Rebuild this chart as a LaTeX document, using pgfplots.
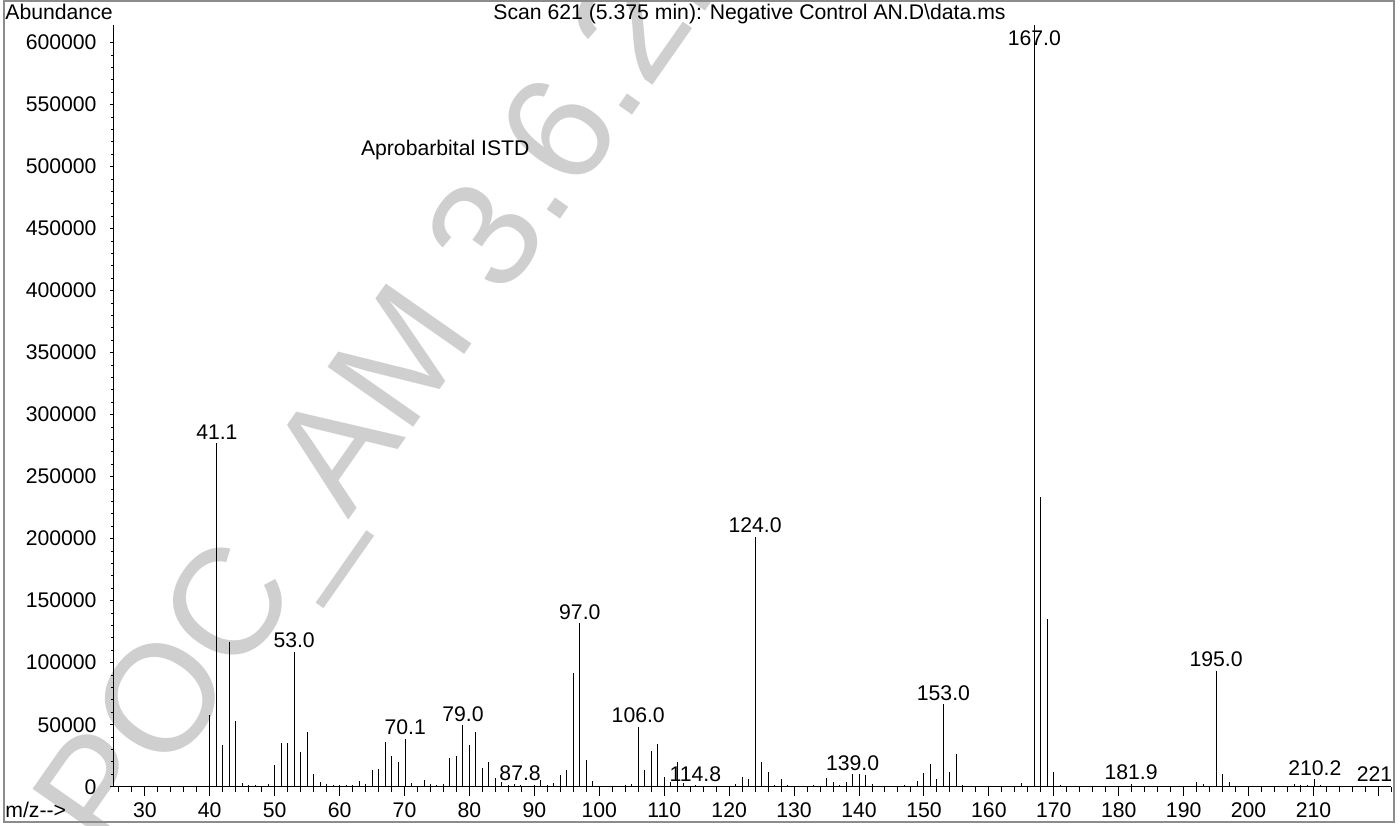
\documentclass[border=0pt]{standalone}
\usepackage{fontspec}
\setmainfont{Liberation Sans}
\usepackage{pgfplots}
\pgfplotsset{compat=1.18}
\usepackage{pgfplotstable}

\pgfplotstableread{
mz int
40 57800
41.1 277000
42 33400
43 116700
44 53000
45 3200
46 1000
47 1000
48 800
49 1900
50 17500
51 35500
52 35500
53 108900
54 28000
55 43900
56 10200
57 3800
58 2200
59 1600
60 1000
61 1600
62 1600
63 4600
64 2400
65 13200
66 14500
67 36200
68 24500
69 19700
70.1 38500
71 3000
72 500
73 5600
74 1900
75 1600
76 2400
77 23400
78 24700
79 49700
80 33900
81 44100
82 15300
83 19700
84 7000
85 3500
86 1100
87 1900
87.8 1500
89 800
90 1000
91 5100
92 1600
93 3000
94 9100
95 13200
96 91900
97 131800
98 21300
99 4600
100 800
101 300
102 300
103 500
104 1300
105 1900
106 48400
107 13200
108 28800
109 34700
110 8100
111 4000
112 19700
113 3000
114 800
114.8 1300
116 500
117 500
118 800
119 500
120 600
121 2200
122 8100
123 5900
124 201600
125 19900
126 11600
127 1300
128 6200
129 1300
130 300
131 300
132 500
133 1600
134 500
135 7000
136 3800
137 1100
138 3800
139 10200
140 10200
141 9400
142 2200
143 800
144 500
145 500
146 800
147 1300
148 800
149 4600
150 11000
151 18500
152 5900
153 66400
154 11600
155 26100
156 1300
157 500
158 300
159 300
160 300
161 300
162 500
163 500
164 800
165 3200
166 300
167 614000
168 233900
169 135200
170 11800
171 1300
172 500
173 300
174 300
175 500
176 800
177 500
178 500
179 300
180 300
181 500
181.9 2200
183 800
184 300
185 300
186 300
187 300
188 300
189 300
190 300
191 500
192 3500
193 2200
194 500
195 93500
196 10200
197 3800
198 800
199 300
200 300
201 300
202 300
203 300
204 300
205 300
206 500
207 1900
208 1100
209 1600
210.2 6200
211 1100
212 300
213 300
214 300
215 300
216 300
217 500
218 300
219 800
221 500
}\spectrum

\definecolor{wm}{RGB}{207,207,207}
\definecolor{frame}{RGB}{140,140,140}

\begin{document}
\fontsize{10.6}{12.7}\selectfont
\begin{tikzpicture}[x=1pt,y=1pt]
\useasboundingbox (0,0) rectangle (700,412.5);
\begin{scope}
\clip (0,0) rectangle (700,412.5);
\node[rotate=55, anchor=base west, inner sep=0pt, text=wm, font=\fontsize{76}{76}\selectfont] at (55.5,-17.5) {POC\_AM 3.6.2.};
\end{scope}
\draw[frame, line width=0.8pt] (2,1.5) rectangle (697,412);
\begin{axis}[
  at={(56.5pt,19.15pt)}, anchor=south west,
  scale only axis, width=639.2pt, height=380.7pt,
  xmin=25.1, xmax=222, ymin=0, ymax=614000,
  axis x line=bottom, axis y line=left,
  axis line style={-, line width=0.5pt, black},
  xtick={30,40,...,210}, extra x ticks={220}, extra x tick labels={},
  minor xtick={26,28,...,222},
  ytick={0,50000,...,600000}, minor y tick num=4,
  tick align=outside, major tick length=4.5pt, minor tick length=2.5pt,
  tick style={black, line width=0.5pt},
  ytick style={/pgfplots/major tick length=1.6pt, /pgfplots/minor tick length=1pt},
  /pgf/number format/assume math mode=true,
  yticklabel style={/pgf/number format/fixed, /pgf/number format/1000 sep={}},
  scaled y ticks=false,
  clip=false,
]
\addplot[ycomb, black, line width=0.5pt, mark=none] table[x=mz,y=int] {\spectrum};
\node[anchor=base, inner sep=0pt, yshift=2pt] at (axis cs:41.1,277000) {41.1};
\node[anchor=base, inner sep=0pt, yshift=2pt] at (axis cs:53.0,108900) {53.0};
\node[anchor=base, inner sep=0pt, yshift=2pt] at (axis cs:70.1,38500) {70.1};
\node[anchor=base, inner sep=0pt, yshift=2pt] at (axis cs:79.0,49700) {79.0};
\node[anchor=base, inner sep=0pt, yshift=2pt] at (axis cs:87.8,1500) {87.8};
\node[anchor=base, inner sep=0pt, yshift=2pt] at (axis cs:97.0,131800) {97.0};
\node[anchor=base, inner sep=0pt, yshift=2pt] at (axis cs:106.0,48400) {106.0};
\node[anchor=base, inner sep=0pt, yshift=2pt] at (axis cs:114.8,1300) {114.8};
\node[anchor=base, inner sep=0pt, yshift=2pt] at (axis cs:124.0,201600) {124.0};
\node[anchor=base, inner sep=0pt, yshift=2pt] at (axis cs:139.0,10200) {139.0};
\node[anchor=base, inner sep=0pt, yshift=2pt] at (axis cs:153.0,66400) {153.0};
\node[anchor=base, inner sep=0pt] at (axis cs:167.0,598100) {167.0};
\node[anchor=base, inner sep=0pt, yshift=2pt] at (axis cs:181.9,2200) {181.9};
\node[anchor=base, inner sep=0pt, yshift=2pt] at (axis cs:195.0,93500) {195.0};
\node[anchor=base, inner sep=0pt, yshift=2pt] at (axis cs:210.2,6200) {210.2};
\node[anchor=base, inner sep=0pt] at (axis cs:219.4,4000) {221};
\end{axis}
\node[anchor=base west, inner sep=0pt] at (2.5,402.5) {Abundance};
\node[anchor=base west, inner sep=0pt] at (2.5,4) {m/z-{}-{}>};
\node[anchor=base, inner sep=0pt] at (374.75,402.75) {Scan 621 (5.375 min): Negative Control AN.D\textbackslash data.ms};
\node[anchor=base west, inner sep=0pt] at (180.3,334.5) {Aprobarbital ISTD};
\end{tikzpicture}
\end{document}
